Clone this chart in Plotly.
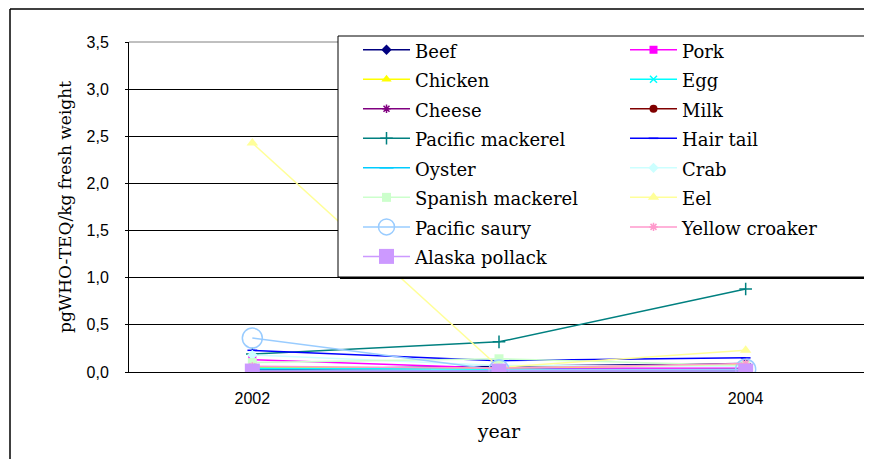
import plotly.graph_objects as go

years = ["2002", "2003", "2004"]

series_names = ["Beef", "Pork", "Chicken", "Egg", "Cheese", "Milk",
                "Pacific mackerel", "Hair tail", "Oyster", "Crab",
                "Spanish mackerel", "Eel", "Pacific saury", "Yellow croaker",
                "Alaska pollack"]

beef = [0.03, 0.06, 0.09]
pork = [0.13, 0.04, 0.04]
chicken = [0.05, 0.04, 0.08]
egg = [0.04, 0.03, 0.02]
cheese = [0.02, 0.01, 0.03]
milk = [0.01, 0.01, 0.01]
pacific_mackerel = [0.19, 0.32, 0.88]
hair_tail = [0.23, 0.12, 0.15]
oyster = [0.02, 0.01, 0.01]
crab = [0.18, 0.07, 0.06]
spanish_mackerel = [0.10, 0.14, 0.07]
eel = [2.43, 0.05, 0.23]
pacific_saury = [0.36, 0.02, 0.03]
yellow_croaker = [0.06, 0.04, 0.09]
alaska_pollack = [0.01, 0.01, 0.01]

values = [beef, pork, chicken, egg, cheese, milk, pacific_mackerel, hair_tail,
          oyster, crab, spanish_mackerel, eel, pacific_saury, yellow_croaker,
          alaska_pollack]

colors = ["#000080", "#FF00FF", "#FFFF00", "#00FFFF", "#800080", "#800000",
          "#008080", "#0000FF", "#00CCFF", "#CCFFFF", "#CCFFCC", "#FFFF99",
          "#99CCFF", "#FF99CC", "#CC99FF"]
symbols = ["diamond", "square", "triangle-up", "x-thin-open", "asterisk-open",
           "circle", "cross-thin-open", "line-ew-open", "line-ew-open", "diamond",
           "square", "triangle-up", "circle-open", "asterisk-open", "square"]
sizes = [8, 8, 9, 7, 7, 8, 9, 7, 10, 8, 9, 10, 20, 7, 15]

# the page body adds an 8px margin, so the figure is drawn 8px lower/righter
OFF = 8
W, H = 872 - OFF, 459 - OFF
L, R, T, B = 129 - OFF, 869 - OFF, 42 - OFF, 372 - OFF
PW, PH = R - L, B - T


def px(x):
    """reference-picture x pixel -> paper fraction"""
    return (x - OFF - L) / PW


def py(y):
    """reference-picture y pixel -> paper fraction"""
    return (B - (y - OFF)) / PH


fig = go.Figure()
for name, vals, c, s, sz in zip(series_names, values, colors, symbols, sizes):
    openish = s.endswith("-open")
    fig.add_trace(go.Scatter(
        x=years, y=vals, mode="lines+markers",
        name='<span style="font-size:18px">' + name + '</span>',
        line=dict(color=c, width=1.5),
        marker=dict(symbol=s, size=sz, color=c,
                    line=dict(color=c, width=1.5 if openish else 0)),
    ))

font_sans = "Liberation Sans, Arial, sans-serif"
font_serif = "DejaVu Serif, serif"

shapes = [
    # outer chart border (left and top)
    dict(type="line", xref="paper", yref="paper", x0=px(10), x1=px(10), y0=py(9), y1=py(470),
         line=dict(color="#000000", width=1.5)),
    dict(type="line", xref="paper", yref="paper", x0=px(10), x1=px(880), y0=py(9), y1=py(9),
         line=dict(color="#000000", width=1.5)),
    # top boundary grey
    dict(type="line", xref="paper", yref="paper", x0=0, x1=1, y0=1, y1=1,
         line=dict(color="#808080", width=1), layer="above"),
    # legend shadow and box
    dict(type="rect", xref="paper", yref="paper", x0=px(340), x1=px(870), y0=py(38), y1=py(279),
         line=dict(width=0), fillcolor="#000000", layer="above"),
    dict(type="rect", xref="paper", yref="paper", x0=px(338), x1=px(868), y0=py(36), y1=py(277),
         line=dict(color="#000000", width=1), fillcolor="#FFFFFF", layer="above"),
]

fig.update_layout(
    width=W, height=H,
    margin=dict(l=L, r=W - R, t=T, b=H - B, pad=0, autoexpand=False),
    paper_bgcolor="#FFFFFF", plot_bgcolor="#FFFFFF",
    separators=", ",
    showlegend=True,
    legend=dict(
        orientation="h", xref="paper", yref="paper",
        x=px(358), y=py(30), xanchor="left", yanchor="top",
        maxheight=320,
        bgcolor="rgba(0,0,0,0)", borderwidth=0,
        entrywidth=205, entrywidthmode="pixels",
        itemwidth=47,
        font=dict(family=font_serif, size=20.4, color="#000000"),
        traceorder="normal",
    ),
    shapes=shapes,
    xaxis=dict(
        type="category", range=[-0.5, 2.5],
        showline=True, linecolor="#000000", linewidth=1, mirror=False,
        showgrid=False, ticks="", zeroline=False,
        tickfont=dict(family=font_sans, size=16, color="#000000"),
        ticklabelstandoff=12,
        title=dict(text="year", font=dict(family=font_serif, size=19, color="#000000"), standoff=18),
    ),
    yaxis=dict(
        range=[0, 3.5], dtick=0.5, tick0=0, tickformat=".1f",
        showline=True, linecolor="#000000", linewidth=1, mirror=True,
        showgrid=True, gridcolor="#000000", gridwidth=1, zeroline=False,
        ticks="outside", ticklen=3, tickcolor="#000000",
        tickfont=dict(family=font_sans, size=16, color="#000000"),
        ticklabelstandoff=13,
        title=dict(text="pgWHO-TEQ/kg fresh weight",
                   font=dict(family=font_serif, size=17, color="#000000"), standoff=10),
    ),
)

fig.write_html("out.html")
